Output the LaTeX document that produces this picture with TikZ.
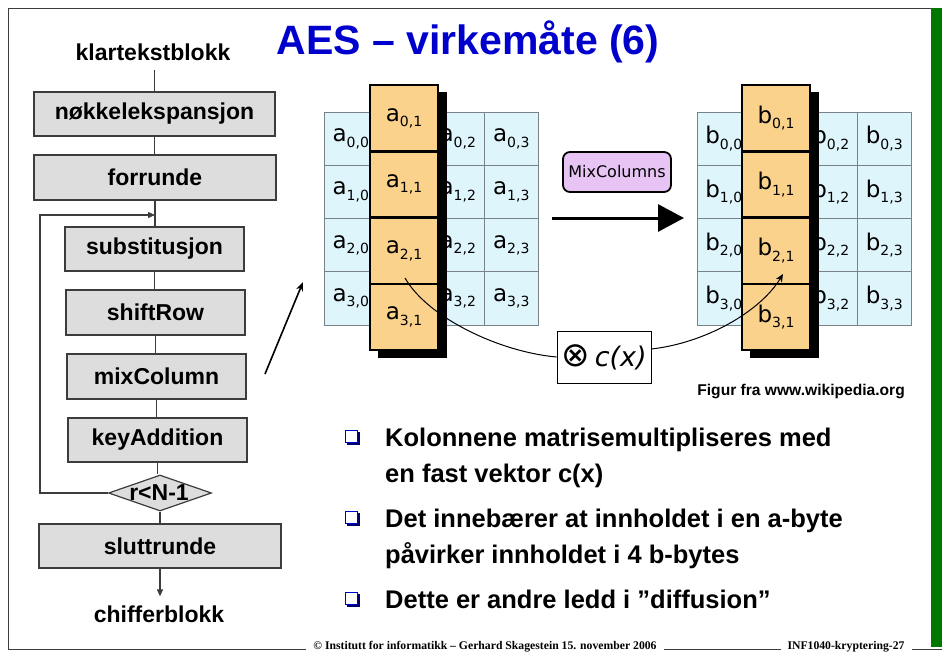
\documentclass[tikz,border=0pt]{standalone}
\usepackage{fontspec}
\setmainfont{Liberation Sans}
\newfontfamily\vfont{DejaVu Sans}
\newfontfamily\tfont{Liberation Serif}
\usetikzlibrary{arrows.meta,shapes.geometric}
\definecolor{boxgray}{RGB}{221,221,221}
\definecolor{lineg}{RGB}{60,60,60}
\definecolor{cellblue}{RGB}{223,245,252}
\definecolor{cellline}{RGB}{120,130,135}
\definecolor{orangec}{RGB}{250,210,140}
\definecolor{lav}{RGB}{232,196,244}
\definecolor{titleblue}{RGB}{0,0,204}
\definecolor{bargreen}{RGB}{0,120,0}
\definecolor{bulnavy}{RGB}{0,0,110}
\newcommand\clab[3]{{\fontsize{23}{23}\selectfont #1}\raisebox{-5.5pt}{\fontsize{14}{14}\selectfont #2,#3}}
\begin{document}
\begin{tikzpicture}[x=1pt,y=-1pt,
  flow/.style={draw=lineg, line width=1.2pt, fill=boxgray, minimum width=#1, minimum height=44pt, inner sep=0pt, font=\fontsize{23}{23}\selectfont\bfseries},
  flow/.default=179pt,
  lab/.style={inner xsep=0pt, inner ysep=9pt, font=\fontsize{23}{23}\selectfont\bfseries},
  dia/.style={diamond, draw=lineg, line width=1.2pt, fill=boxgray, inner sep=0pt, minimum width=103pt, minimum height=36pt},
  conn/.style={draw=lineg, line width=1.2pt},
  bcell/.style={draw=cellline, line width=0.8pt, fill=cellblue, minimum width=53.5pt, minimum height=53.25pt, inner sep=0pt, font=\vfont},
  ocell/.style={draw=black, line width=2.5pt, fill=orangec, minimum width=68pt, minimum height=66.25pt, inner sep=0pt, font=\vfont},
  bultext/.style={anchor=base west, inner sep=0pt, font=\fontsize{25.5}{25.5}\selectfont\bfseries},
  foot/.style={fill=white, inner xsep=7pt, inner ysep=1pt, font=\tfont\fontsize{11.7}{11.7}\selectfont\bfseries},
  bulsq/.pic={\fill[bulnavy] (-5,-5) rectangle (8,8); \draw[titleblue,fill=white,line width=0.9pt] (-6.5,-6.5) rectangle (5.5,5.5);}
]
\useasboundingbox (0,0) rectangle (942,653);
% frame
\fill[bargreen] (931,8) rectangle (942,647);
\draw[lineg, line width=0.9pt] (931,8) -- (8,8) -- (8,649) -- (942,649);
\node[foot] (f1) at (485,647) {© Institutt for informatikk – Gerhard Skagestein 15. november 2006};
\node[foot] (f2) at (846,647) {INF1040-kryptering-27};
% title
\node[anchor=base, inner sep=0pt, text=titleblue, font=\fontsize{41}{41}\selectfont\bfseries] (title) at (468,54) {AES – virkemåte (6)};
% flowchart
\node[lab] (klar) at (153,52) {klartekstblokk};
\node[flow=241pt] (nok) at (154.5,114) {nøkkelekspansjon};
\node[flow=242pt, minimum height=45pt] (forr) at (155,177.5) {forrunde};
\node[flow] (sub) at (154.5,249) {substitusjon};
\node[flow, minimum height=45pt] (shift) at (155.5,312.5) {shiftRow};
\node[flow, minimum height=45pt] (mix) at (156.5,376.5) {mixColumn};
\node[flow] (key) at (157.5,440) {keyAddition};
\node[dia] (dia) at (160,493) {};
\node[inner sep=0pt, font=\fontsize{23}{23}\selectfont\bfseries] (diat) at (159,493) {r<N-1};
\node[flow=242pt] (slutt) at (160,546) {sluttrunde};
\node[lab] (chif) at (159,614) {chifferblokk};
\draw[conn] (klar.south -| nok.north) -- (nok.north);
\draw[conn] (nok.south) -- (nok.south |- forr.north);
\draw[conn] (forr.south) -- (forr.south |- sub.north);
\draw[conn] (sub.south) -- (sub.south |- shift.north);
\draw[conn] (shift.south) -- (shift.south |- mix.north);
\draw[conn] (mix.south) -- (mix.south |- key.north);
\draw[conn] (key.south) -- (key.south |- dia.north);
\draw[conn] (dia.south) -- (dia.south |- slutt.north);
\draw[conn,-{Triangle[length=7pt,width=6pt]}] (slutt.south) -- (slutt.south |- chif.north);
\coordinate (lpB) at (40,493);
\coordinate (lpT) at (40,215);
\draw[conn,-{Triangle[length=7pt,width=6pt]}] (dia.west) -- (lpB) -- (lpT) -- (lpT -| forr.south);
% left grid
\foreach \i in {0,1,2,3}{\foreach \j in {0,2,3}{
  \node[bcell] (a\i\j) at ({324+53.5*\j+26.75},{112+53.25*\i+26.625}) {\clab{a}{\i}{\j}};
}}
\foreach \i in {0,1,2,3}{
  \node[bcell] (a\i1) at ({324+53.5+26.75},{112+53.25*\i+26.625}) {};
}
\fill[black] (378,92) rectangle (447,358);
\foreach \i in {0,1,2,3}{
  \node[ocell] (oa\i) at (404,{85+66.25*\i+33.125}) {\clab{a}{\i}{1}};
}
% right grid
\foreach \i in {0,1,2,3}{\foreach \j in {0,2,3}{
  \node[bcell] (b\i\j) at ({697+53.5*\j+26.75},{112+53.25*\i+26.625}) {\clab{b}{\i}{\j}};
}}
\foreach \i in {0,1,2,3}{
  \node[bcell] (b\i1) at ({697+53.5+26.75},{112+53.25*\i+26.625}) {};
}
\fill[black] (750,92) rectangle (819,358);
\foreach \i in {0,1,2,3}{
  \node[ocell] (ob\i) at (776,{85+66.25*\i+33.125}) {\clab{b}{\i}{1}};
}
% MixColumns
\node[draw=black, line width=1.8pt, rounded corners=7pt, fill=lav, minimum width=108pt, minimum height=40pt, inner sep=0pt, font=\vfont\fontsize{16}{16}\selectfont] (mcbox) at (617,172) {MixColumns};
\coordinate (mcS) at (552,218);
\coordinate (mcE) at (684,218);
\draw[line width=3pt,-{Triangle[length=26pt,width=27pt]}] (mcS) -- (mcE);
% c(x)
\node[draw=black, line width=0.8pt, fill=white, minimum width=94pt, minimum height=52pt, inner sep=0pt, font=\vfont] (cx) at (604,357) {{\fontsize{34}{34}\selectfont ⊗}\hspace{5pt}{\fontsize{27}{27}\selectfont\itshape c(x)}};
\coordinate (aS) at (405,278);
\coordinate (bE) at (783,274);
\draw[line width=1pt] (aS) .. controls (428,318) and (500,352) .. (cx.west);
\draw[line width=1pt,-{Stealth[length=8pt,width=7pt]}] ([yshift=8pt]cx.east) .. controls (705,343) and (760,312) .. (bE);
% arrow from mixColumn
\coordinate (mS) at (265,374);
\coordinate (mE) at (303,282);
\draw[line width=1.6pt,-{Stealth[length=9pt,width=7pt]}] (mS) -- (mE);
% caption
\node[anchor=base east, inner sep=0pt, font=\fontsize{15.6}{15.6}\selectfont\bfseries] (cap) at (905,395) {Figur fra www.wikipedia.org};
% bullets
\pic at (352,437) {bulsq};
\pic at (352,518) {bulsq};
\pic at (352,599) {bulsq};
\node[bultext] (t1) at (385,446) {Kolonnene matrisemultipliseres med};
\node[bultext] (t2) at (385,482) {en fast vektor c(x)};
\node[bultext] (t3) at (385,527) {Det innebærer at innholdet i en a-byte};
\node[bultext] (t4) at (385,563) {påvirker innholdet i 4 b-bytes};
\node[bultext] (t5) at (385,608) {Dette er andre ledd i ”diffusion”};
\end{tikzpicture}
\end{document}
